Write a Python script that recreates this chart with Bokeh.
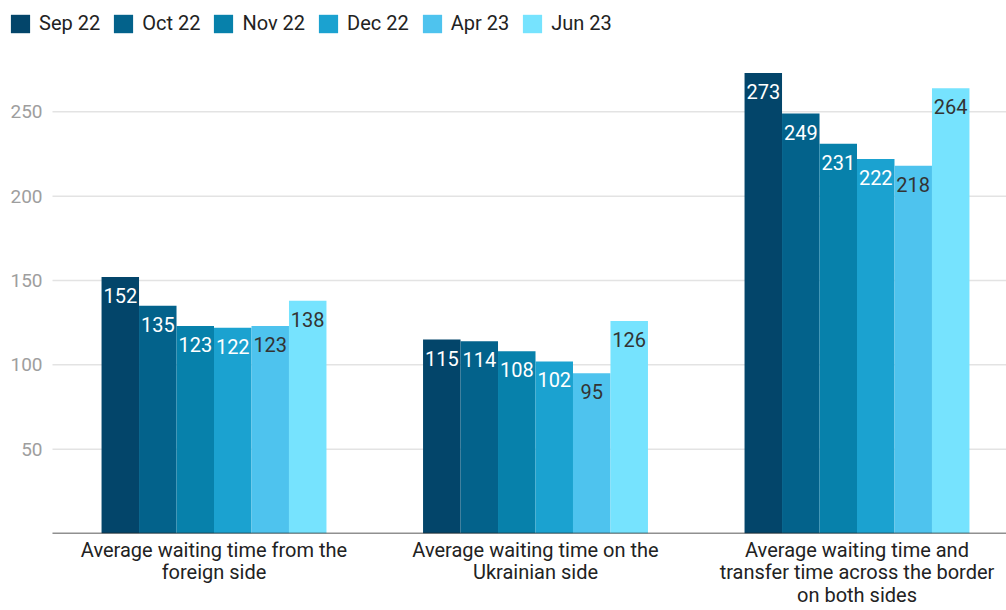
from bokeh.plotting import figure
from bokeh.models import (ColumnDataSource, Range1d, FixedTicker, Legend, LegendItem)
from bokeh.core.properties import value
from bokeh.embed import file_html
from bokeh.resources import INLINE

# Waiting times at the border (minutes), by survey period
categories = [
    "Average waiting time from the\nforeign side",
    "Average waiting time on the\nUkrainian side",
    "Average waiting time and\ntransfer time across the border\non both sides",
]
periods = ["Sep 22", "Oct 22", "Nov 22", "Dec 22", "Apr 23", "Jun 23"]
values = {
    "Sep 22": [152, 115, 273],
    "Oct 22": [135, 114, 249],
    "Nov 22": [123, 108, 231],
    "Dec 22": [122, 102, 222],
    "Apr 23": [123, 95, 218],
    "Jun 23": [138, 126, 264],
}
colors = ["#03456a", "#03628b", "#0781ab", "#1ba2d0", "#4ec3ee", "#76e3fe"]
label_colors = ["white", "white", "white", "white", "#333333", "#333333"]
y_ticks = [50, 100, 150, 200, 250]

FONT = "Roboto"
bar_w = 0.1166
centers = [i + 0.5 for i in range(len(categories))]
X_START, X_END = -0.1641, 2.965   # left part of the frame holds the value labels
PLOT_X0 = -0.0024                 # where the chart area (gridlines) begins

p = figure(width=1006, height=610, output_backend="svg", toolbar_location=None,
           x_range=Range1d(X_START, X_END), y_range=Range1d(0, 316),
           min_border_left=0, min_border_right=0, min_border_top=0,
           min_border_bottom=77)
p.outline_line_color = None
p.background_fill_color = "white"

# horizontal gridlines at the value ticks
p.segment(x0=PLOT_X0, x1=X_END, y0=y_ticks, y1=y_ticks,
          line_color="#e3e3e3", line_width=1.5)

legend_items = []
for k, (per, col, lcol) in enumerate(zip(periods, colors, label_colors)):
    off = (k - 2.5) * bar_w
    xs = [c + off for c in centers]
    src = ColumnDataSource(dict(x=xs, top=values[per],
                                lab=[str(v) for v in values[per]]))
    r = p.vbar(x="x", top="top", width=bar_w, source=src,
               fill_color=col, line_color=None)
    p.text(x="x", y="top", text="lab", source=src, text_align="center",
           text_baseline="top", y_offset=11, text_font=value(FONT),
           text_font_size="20px", text_color=lcol)
    legend_items.append(LegendItem(label=per, renderers=[r]))

legend = Legend(items=legend_items, orientation="horizontal",
                location=(8, 498), glyph_width=24, glyph_height=23,
                label_standoff=7, spacing=11, padding=0, margin=0,
                label_text_font=FONT, label_text_font_size="20px",
                label_text_color="#222222", border_line_color=None,
                background_fill_alpha=0)
p.add_layout(legend, "center")

# y axis: labels sit over the left strip of the frame
p.yaxis.ticker = FixedTicker(ticks=y_ticks)
p.yaxis.axis_line_color = None
p.yaxis.major_tick_line_color = None
p.yaxis.minor_tick_line_color = None
p.yaxis.major_tick_out = 0
p.yaxis.major_tick_in = 0
p.yaxis.major_label_standoff = -42
p.yaxis.major_label_text_font = FONT
p.yaxis.major_label_text_font_size = "19px"
p.yaxis.major_label_text_color = "#9e9e9e"

# x axis with category names
p.xaxis.ticker = FixedTicker(ticks=centers)
p.xaxis.major_label_overrides = {c: name for c, name in zip(centers, categories)}
p.xaxis.axis_line_color = None
p.xaxis.major_tick_line_color = None
p.xaxis.minor_tick_line_color = None
p.xaxis.major_tick_out = 0
p.xaxis.major_tick_in = 0
p.xaxis.major_label_standoff = 4
p.xaxis.major_label_text_font = FONT
p.xaxis.major_label_text_font_size = "20px"
p.xaxis.major_label_text_color = "#222222"
p.xaxis.major_label_text_line_height = 0.95

# baseline of the chart area
p.segment(x0=[PLOT_X0], x1=[X_END], y0=[0], y1=[0],
          line_color="#222222", line_width=1.5)

p.xgrid.grid_line_color = None
p.ygrid.grid_line_color = None

open("out.html", "w").write(file_html(p, INLINE))
